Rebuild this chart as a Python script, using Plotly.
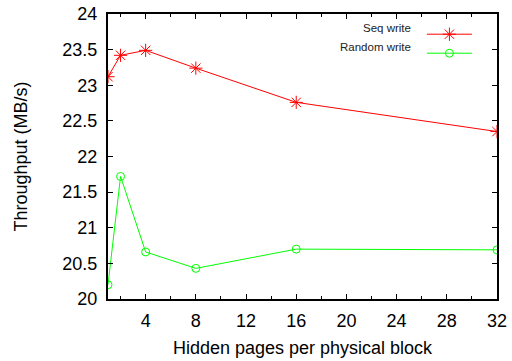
import plotly.graph_objects as go

pages = [1, 2, 4, 8, 16, 32]
seq_write = [23.12, 23.42, 23.49, 23.24, 22.76, 22.35]
random_write = [20.20, 21.72, 20.66, 20.43, 20.70, 20.69]
x_ticks = [4, 8, 12, 16, 20, 24, 28, 32]
y_ticks = [20, 20.5, 21, 21.5, 22, 22.5, 23, 23.5, 24]
series_names = ["Seq write", "Random write"]

FONT = "Liberation Sans, Arial, Helvetica, sans-serif"

fig = go.Figure()
fig.add_trace(go.Scatter(
    x=pages, y=seq_write, mode="lines+markers", name="",
    line=dict(color="#ff0000", width=1),
    marker=dict(symbol="asterisk-open", size=11, color="#ff0000", line=dict(color="#ff0000", width=1)),
))
fig.add_trace(go.Scatter(
    x=pages, y=random_write, mode="lines+markers", name="",
    line=dict(color="#00ff00", width=1),
    marker=dict(symbol="circle-open", size=8, color="#00ff00", line=dict(color="#00ff00", width=1)),
))

axis_common = dict(
    showline=True, linecolor="black", linewidth=2, mirror="allticks",
    ticks="inside", ticklen=5, tickcolor="black", tickwidth=1,
    showgrid=False, zeroline=False,
    tickfont=dict(family=FONT, size=18, color="black"),
)

fig.update_xaxes(
    range=[1, 32], tickvals=x_ticks, ticklabelstandoff=4,
    title=dict(text="Hidden pages per physical block", font=dict(family=FONT, size=18, color="black"), standoff=12),
    minor=dict(dtick=2, tick0=0, ticks="inside", ticklen=3, tickcolor="black", showgrid=False),
    **axis_common,
)
fig.update_yaxes(
    range=[20, 24], tickvals=y_ticks, ticktext=[f"{v:g}" for v in y_ticks], ticklabelstandoff=5,
    title=dict(text="Throughput (MB/s)", font=dict(family=FONT, size=18, color="black"), standoff=30),
    **axis_common,
)

fig.update_layout(
    width=512, height=361,
    margin=dict(l=108, r=15, t=14, b=62, autoexpand=False),
    paper_bgcolor="white", plot_bgcolor="white",
    showlegend=True,
    legend=dict(x=0.807, y=0.98, xanchor="left", yanchor="top",
                bgcolor="rgba(0,0,0,0)", font=dict(family=FONT, size=11, color="black"),
                itemwidth=45, tracegroupgap=0),
    annotations=[
        dict(xref="paper", yref="paper", x=0.784, y=y, xanchor="right", yanchor="middle", align="right",
             text=t, showarrow=False, font=dict(family=FONT, size=11.5, color="#222"))
        for t, y in zip(series_names, [0.951, 0.884])
    ],
)

fig.write_html("out.html", config={"displayModeBar": False},
               post_script="document.body.style.margin='0';")
